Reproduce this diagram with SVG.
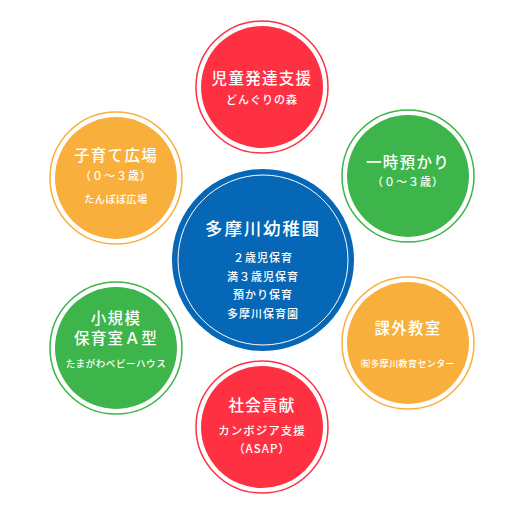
<svg xmlns="http://www.w3.org/2000/svg" width="527" height="527" viewBox="0 0 527 527">
<style>
text{font-family:"Noto Sans CJK JP","Noto Sans",sans-serif;fill:#fff;text-anchor:middle;font-weight:500}
.ring{fill:none;stroke-width:1.5}
.t{font-size:15.5px;letter-spacing:1.3px}
.s{font-size:11px;letter-spacing:1px}
.xs{font-size:9.5px;letter-spacing:0.6px}
.red{fill:#fe3143}.redr{stroke:#fe3143}
.org{fill:#f9af3b}.orgr{stroke:#f9af3b}
.grn{fill:#3db54a}.grnr{stroke:#3db54a}
</style>
<rect width="527" height="527" fill="#fff"/>
<g id="center">
<circle cx="263" cy="260" r="91" fill="#0567b5"/>
<circle cx="263" cy="260" r="85" fill="none" stroke="#fff" stroke-width="1"/>
<text x="263" y="235" style="font-size:17.5px;letter-spacing:1.8px">多摩川幼稚園</text>
<text x="263" y="261.5" class="s">２歳児保育</text>
<text x="263" y="280.5" class="s">満３歳児保育</text>
<text x="263" y="298.5" class="s">預かり保育</text>
<text x="263" y="317.5" class="s">多摩川保育園</text>
</g>
<g id="top">
<circle cx="262" cy="87" r="66" class="ring redr"/>
<circle cx="262" cy="87" r="61" class="red"/>
<text x="262" y="84" class="t">児童発達支援</text>
<text x="262" y="104" class="s">どんぐりの森</text>
</g>
<g id="upper-left">
<circle cx="116" cy="178" r="66" class="ring orgr"/>
<circle cx="116" cy="178" r="61" class="org"/>
<text x="116" y="161" class="t">子育て広場</text>
<text x="116" y="179.5" class="s">（０～３歳）</text>
<text x="116" y="203" class="xs" style="font-size:10px">たんぽぽ広場</text>
</g>
<g id="upper-right">
<circle cx="408" cy="176" r="66" class="ring grnr"/>
<circle cx="408" cy="176" r="61" class="grn"/>
<text x="408" y="168" class="t">一時預かり</text>
<text x="408" y="185.5" class="s">（０～３歳）</text>
</g>
<g id="lower-left">
<circle cx="116" cy="348" r="66" class="ring grnr"/>
<circle cx="116" cy="348" r="61" class="grn"/>
<text x="116" y="324" class="t">小規模</text>
<text x="116" y="344" class="t">保育室Ａ型</text>
<text x="116" y="366.5" class="xs">たまがわベビーハウス</text>
</g>
<g id="lower-right">
<circle cx="408" cy="343" r="66" class="ring orgr"/>
<circle cx="408" cy="343" r="61" class="org"/>
<text x="408" y="334" class="t">課外教室</text>
<text x="408" y="366.5" class="xs" style="font-size:9px;letter-spacing:0.4px">㈲多摩川教育センター</text>
</g>
<g id="bottom">
<circle cx="262" cy="427" r="66" class="ring redr"/>
<circle cx="262" cy="427" r="61" class="red"/>
<text x="262" y="411" class="t">社会貢献</text>
<text x="262" y="434.5" class="s" style="font-size:11.5px">カンボジア支援</text>
<text x="262" y="452.5" class="s" style="font-size:11.5px">（ASAP）</text>
</g>
<g id="connectors"/>
</svg>
